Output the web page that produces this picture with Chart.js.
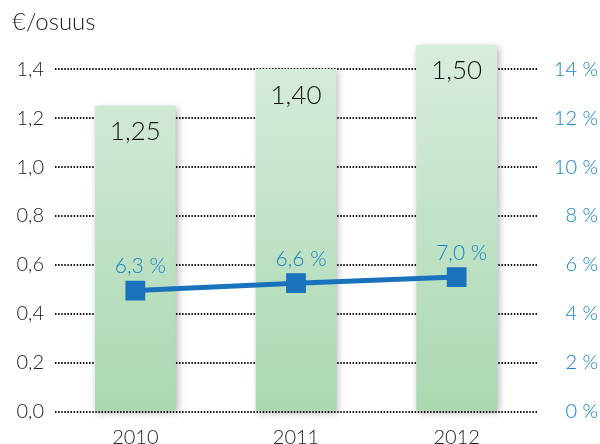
<!DOCTYPE html>
<html><head><meta charset="utf-8">
<script src="https://cdn.jsdelivr.net/npm/chart.js@4"></script>
<style>html,body{margin:0;padding:0;background:#fff}</style>
</head><body><canvas id="c" width="600" height="444"></canvas>
<script>
const years = ['2010', '2011', '2012'];
const dividendPerShare = [1.25, 1.40, 1.50];
const dividendLabels = ['1,25', '1,40', '1,50'];
// yield line as drawn in the picture (its markers sit below the printed values)
const yieldDrawn = [4.95, 5.25, 5.5];
const yieldLabels = ['6,3 %', '6,6 %', '7,0 %'];
const leftTicks = [0, 0.2, 0.4, 0.6, 0.8, 1.0, 1.2, 1.4];
const leftTickLabels = ['0,0', '0,2', '0,4', '0,6', '0,8', '1,0', '1,2', '1,4'];
const rightTicks = [0, 2, 4, 6, 8, 10, 12, 14];
const rightTickLabels = ['0 %', '2 %', '4 %', '6 %', '8 %', '10 %', '12 %', '14 %'];
const unitTitle = '€/osuus';

const FONT = 'Lato, "Open Sans", sans-serif';
const W = 300;
const DARK = '#1c1c1c';
const BLUE = '#1a82c6';
const LINE = '#1a72bd';

const deco = {
  id: 'deco',
  beforeDatasetDraw(chart, args) {
    if (args.meta.type === 'bar') {
      const c = chart.ctx;
      c.save();
      c.shadowColor = 'rgba(0,0,0,0.3)';
      c.shadowBlur = 7;
      c.shadowOffsetX = 2;
      c.shadowOffsetY = 2;
    }
  },
  afterDatasetDraw(chart, args) {
    if (args.meta.type === 'bar') chart.ctx.restore();
  },
  afterDatasetsDraw(chart) {
    const c = chart.ctx;
    c.save();
    c.textAlign = 'center';
    c.textBaseline = 'middle';
    chart.data.datasets.forEach((ds, i) => {
      const meta = chart.getDatasetMeta(i);
      meta.data.forEach((el, j) => {
        if (meta.type === 'bar') {
          c.font = W + ' 26px ' + FONT;
          c.fillStyle = '#111';
          c.fillText(dividendLabels[j], el.x, el.y + 26);
        } else {
          c.font = W + ' 21px ' + FONT;
          c.fillStyle = BLUE;
          c.fillText(yieldLabels[j], el.x + 5, el.y - 24);
        }
      });
    });
    c.restore();
  }
};

new Chart(document.getElementById('c'), {
  data: {
    labels: years,
    datasets: [
      {
        type: 'line',
        data: yieldDrawn,
        yAxisID: 'y1',
        borderColor: LINE,
        borderWidth: 5,
        pointStyle: 'rect',
        pointRadius: 14,
        pointBorderWidth: 0,
        pointBackgroundColor: LINE,
        order: 0
      },
      {
        type: 'bar',
        data: dividendPerShare,
        yAxisID: 'y',
        barThickness: 80,
        clip: false,
        order: 1,
        backgroundColor: (ctx) => {
          const a = ctx.chart.chartArea;
          if (!a) return '#c2e2c8';
          const g = ctx.chart.ctx.createLinearGradient(0, a.top, 0, a.bottom);
          g.addColorStop(0, '#d8ecde');
          g.addColorStop(1, '#aad8b0');
          return g;
        }
      }
    ]
  },
  options: {
    responsive: false,
    animation: false,
    devicePixelRatio: 1,
    layout: { padding: { left: 12, right: 2, top: 0, bottom: 0 } },
    plugins: {
      legend: { display: false },
      tooltip: { enabled: false },
      title: {
        display: true,
        text: unitTitle,
        align: 'start',
        color: DARK,
        font: { family: FONT, size: 24, weight: W },
        padding: { top: 8, bottom: 8.2 }
      }
    },
    scales: {
      x: {
        grid: { display: false, drawTicks: false },
        border: { display: false },
        ticks: { color: DARK, font: { family: FONT, size: 20, weight: W }, padding: 14 },
        afterFit(s) { s.height = 32.5; }
      },
      y: {
        position: 'left',
        min: 0,
        max: 1.5,
        afterBuildTicks(s) { s.ticks = leftTicks.map(v => ({ value: v })); },
        ticks: {
          color: DARK,
          font: { family: FONT, size: 20, weight: W },
          padding: 11,
          callback: (v, i) => leftTickLabels[i]
        },
        grid: { color: '#111111', lineWidth: 2, drawTicks: false },
        border: { display: false, dash: [1.5, 1.6] },
        afterFit(s) { s.width = 43; }
      },
      y1: {
        position: 'right',
        min: 0,
        max: 15,
        afterBuildTicks(s) { s.ticks = rightTicks.map(v => ({ value: v })); },
        ticks: {
          color: BLUE,
          font: { family: FONT, size: 20, weight: W },
          padding: 0,
          crossAlign: 'far',
          callback: (v, i) => rightTickLabels[i]
        },
        grid: { display: false, drawTicks: false },
        border: { display: false },
        afterFit(s) { s.width = 61; }
      }
    }
  },
  plugins: [deco]
});
</script>
</body></html>
